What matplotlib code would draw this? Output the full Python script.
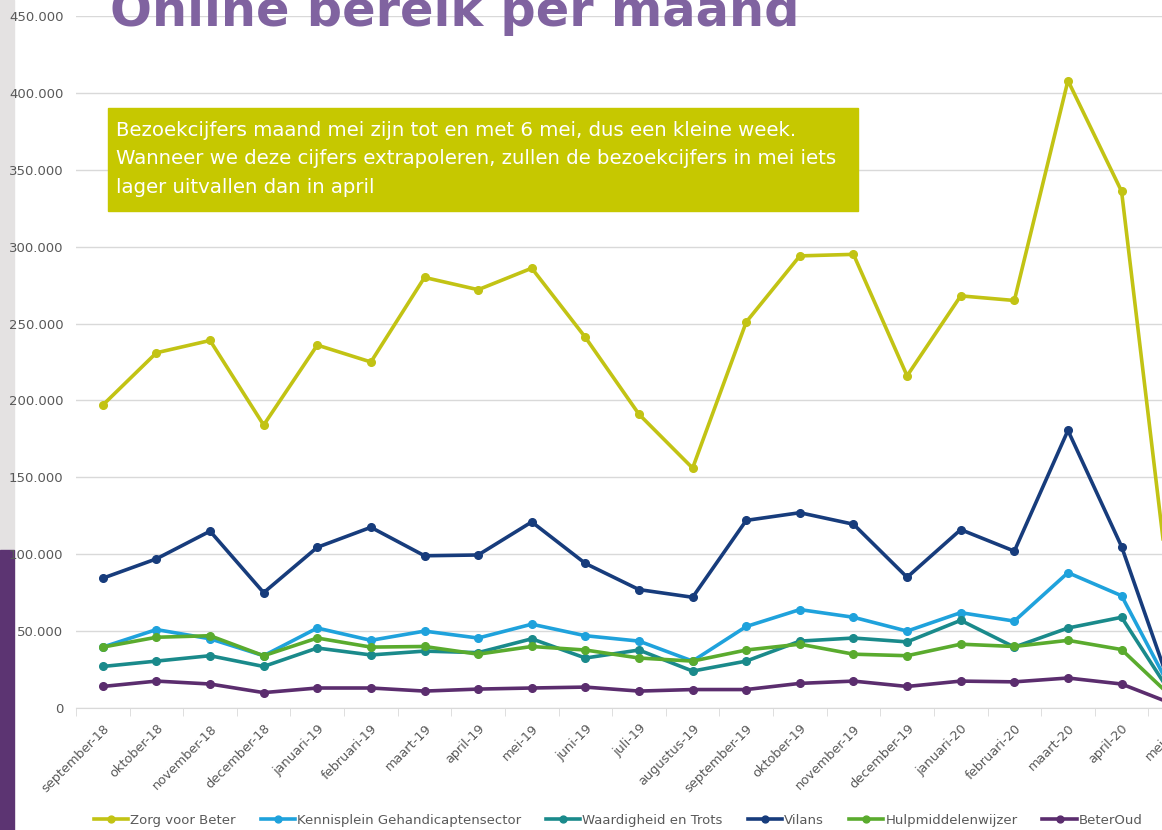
import numpy as np
import matplotlib
matplotlib.use("Agg")
import matplotlib.pyplot as plt
from matplotlib.patches import Rectangle
from matplotlib.ticker import FuncFormatter, MultipleLocator

# months on the x axis
months = ["september-18", "oktober-18", "november-18", "december-18",
          "januari-19", "februari-19", "maart-19", "april-19", "mei-19",
          "juni-19", "juli-19", "augustus-19", "september-19", "oktober-19",
          "november-19", "december-19", "januari-20", "februari-20",
          "maart-20", "april-20", "mei-20"]

# visitors per site
zorg_voor_beter = [197000, 231000, 239000, 184000, 236000, 225000, 280000,
                   272000, 286000, 241000, 191000, 156000, 251000, 294000,
                   295000, 216000, 268000, 265000, 408000, 336000, 43500]
kennisplein = [39600, 51000, 45000, 34000, 52000, 44000, 50000, 45500, 54500,
               47000, 43500, 30500, 53000, 64000, 59000, 50000, 62000, 56500,
               88000, 73000, 7000]
waardigheid = [27000, 30500, 34000, 27000, 39000, 34500, 37000, 36000, 45000,
               32500, 37700, 24000, 30500, 43500, 45500, 43000, 57000, 39600,
               52000, 59000, 5000]
vilans = [84400, 97000, 115000, 75000, 104500, 117500, 99000, 99500, 121000,
          94000, 77000, 72000, 122000, 127000, 119500, 85000, 116000, 102000,
          180500, 105000, 5000]
hulpmiddelenwijzer = [39600, 46000, 47000, 34000, 45500, 39600, 40000, 35000,
                      40000, 37700, 32500, 30500, 37700, 41500, 35000, 34000,
                      41500, 40000, 44000, 38000, 5000]
beteroud = [14000, 17500, 15600, 10000, 13000, 13000, 11000, 12300, 13000,
            13600, 11000, 12000, 12000, 16000, 17500, 14000, 17500, 17000,
            19500, 15600, 2000]

series = [
    ("Zorg voor Beter", zorg_voor_beter, "#c2c314"),
    ("Kennisplein Gehandicaptensector", kennisplein, "#1fa2dc"),
    ("Waardigheid en Trots", waardigheid, "#1a8a8b"),
    ("Vilans", vilans, "#173c7c"),
    ("Hulpmiddelenwijzer", hulpmiddelenwijzer, "#5aab2e"),
    ("BeterOud", beteroud, "#5b2d6e"),
]

note = ("Bezoekcijfers maand mei zijn tot en met 6 mei, dus een kleine week.\n"
        "Wanneer we deze cijfers extrapoleren, zullen de bezoekcijfers in mei iets\n"
        "lager uitvallen dan in april")

W, H = 1162, 830
fig = plt.figure(figsize=(W / 100, H / 100), dpi=100)
fig.patch.set_facecolor("white")

# left side decoration: pale wood strip and purple bar (behind everything)
fig.patches.append(Rectangle((0, 1 - 550 / H), 14 / W, 550 / H,
                             transform=fig.transFigure, color="#e4e2e2", zorder=-5))
fig.patches.append(Rectangle((0, 0), 14 / W, 1 - 550 / H,
                             transform=fig.transFigure, color="#5c3472", zorder=-5))

left, right, bottom, top = 76, 1202, 708, 16
ax = fig.add_axes([left / W, 1 - bottom / H, (right - left) / W, (bottom - top) / H])
ax.set_facecolor("none")

x = np.arange(len(months))
for name, vals, col in series:
    ax.plot(x, vals, color=col, lw=2.6, marker="o", ms=5.5, label=name,
            solid_joinstyle="round", clip_on=False)

ax.set_xlim(-0.5, len(months) - 0.5)
ax.set_ylim(0, 450000)
ax.yaxis.set_major_locator(MultipleLocator(50000))
ax.yaxis.set_major_formatter(FuncFormatter(lambda v, p: "0" if v == 0 else f"{int(v):,}".replace(",", ".")))
ax.grid(axis="y", color="#d9d9d9", lw=1)
ax.set_axisbelow(True)
for s in ["left", "right", "top"]:
    ax.spines[s].set_visible(False)
ax.spines["bottom"].set_color("#d9d9d9")
ax.tick_params(axis="y", length=0, labelsize=9.5, labelcolor="#595959", pad=9)

ax.set_xticks(x)
ax.set_xticklabels(months, rotation=45, ha="right", rotation_mode="anchor")
ax.set_xticks(np.arange(-0.5, len(months)), minor=True)
ax.tick_params(axis="x", which="major", length=0, labelsize=9.3,
               labelcolor="#595959", pad=10)
ax.tick_params(axis="x", which="minor", length=6, color="#d9d9d9")

# title (cut off at the top in the reference)
fig.text(110 / W, 1 - 26 / H, "Online bereik per maand", fontsize=35.6,
         fontweight="bold", color="#8063a0", va="baseline", ha="left")

# note box
fig.patches.append(Rectangle((108 / W, 1 - 211 / H), 750 / W, 103 / H,
                             transform=fig.transFigure, color="#c6c800", zorder=5))
fig.text(116 / W, 1 - 121 / H, note, fontsize=14.2, color="white", va="top",
         ha="left", linespacing=1.62, zorder=6)

fig.legend(loc="center", bbox_to_anchor=(0.532, 1 - 820 / H), ncol=6,
           frameon=False, fontsize=9.5, labelcolor="#595959", handlelength=2.6,
           handletextpad=0.15, columnspacing=1.9, markerscale=0.9)

fig.savefig("out.png", dpi=100)
